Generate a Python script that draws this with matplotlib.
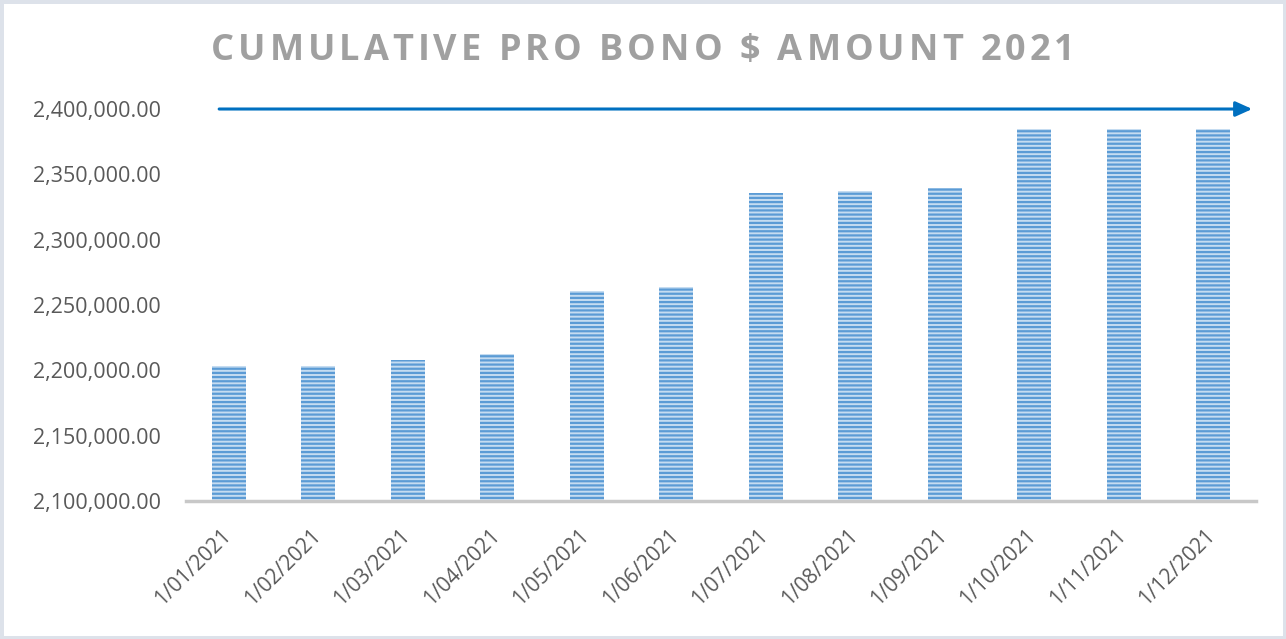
import matplotlib.pyplot as plt
import matplotlib.transforms as mtransforms
from matplotlib.patches import Rectangle
from matplotlib.ticker import FuncFormatter

months = ["1/01/2021", "1/02/2021", "1/03/2021", "1/04/2021", "1/05/2021", "1/06/2021",
          "1/07/2021", "1/08/2021", "1/09/2021", "1/10/2021", "1/11/2021", "1/12/2021"]
amounts = [2203300, 2203600, 2207900, 2212500, 2260700, 2263800,
           2335700, 2337200, 2339500, 2384700, 2384700, 2384700]
y_ticks = [2100000, 2150000, 2200000, 2250000, 2300000, 2350000, 2400000]
title = "CUMULATIVE PRO BONO $ AMOUNT 2021"

plt.rcParams["font.family"] = ["Open Sans", "DejaVu Sans"]
plt.rcParams["hatch.linewidth"] = 1.6

fig = plt.figure(figsize=(12.86, 6.39), dpi=100)
ax = fig.add_axes([0.1446, 0.216, 0.832, 0.6134])

x = range(len(months))
ax.bar(x, amounts, width=0.38, color="#c5dcf1", edgecolor="#5b9bd5",
       linewidth=0, hatch="----", zorder=2)

ax.set_xlim(-0.48, 11.48)
ax.set_ylim(y_ticks[0], y_ticks[-1])
ax.set_yticks(y_ticks)
ax.yaxis.set_major_formatter(FuncFormatter(lambda v, p: f"{v:,.2f}"))
ax.set_xticks(list(x))
ax.set_xticklabels(months, rotation=45, ha="right", rotation_mode="anchor")
ax.tick_params(axis="both", length=0, colors="#595959")
ax.tick_params(axis="x", labelsize=15, pad=17)
ax.tick_params(axis="y", labelsize=15.5, pad=18)
shift = mtransforms.ScaledTranslation(-8 / 100, 0, fig.dpi_scale_trans)
for lab in ax.get_xticklabels():
    lab.set_transform(lab.get_transform() + shift)

for s in ["top", "right", "left"]:
    ax.spines[s].set_visible(False)
ax.spines["bottom"].set_color("#c8c8c8")
ax.spines["bottom"].set_linewidth(2.5)

# trend arrow along the top
ax.annotate("", xy=(11.47, y_ticks[-1]), xytext=(-0.14, y_ticks[-1]),
            arrowprops=dict(arrowstyle="-|>,head_length=1.0,head_width=0.45",
                            color="#0070c0", lw=2.2),
            annotation_clip=False)

# title with wide letter spacing: place characters one by one
fig.canvas.draw()
renderer = fig.canvas.get_renderer()
fs = 26
tkw = dict(fontsize=fs, fontweight="bold", color="#a0a0a0", va="center", ha="left")
chars = [fig.text(0, 1 - 51 / 639, c, **tkw) for c in title]
widths = []
for t, c in zip(chars, title):
    if c == " ":
        widths.append(renderer.points_to_pixels(fs) * 0.26)
    else:
        widths.append(t.get_window_extent(renderer).width)
track = 4.0
total = sum(widths) + track * (len(title) - 1)
xpos = fig.bbox.width / 2 - total / 2
for t, w in zip(chars, widths):
    t.set_x(xpos / fig.bbox.width)
    xpos += w + track

fig.patches.append(Rectangle((0, 0), 1, 1, transform=fig.transFigure, fill=False,
                             edgecolor="#dde2ea", linewidth=5))

fig.savefig("out.png", dpi=100)
